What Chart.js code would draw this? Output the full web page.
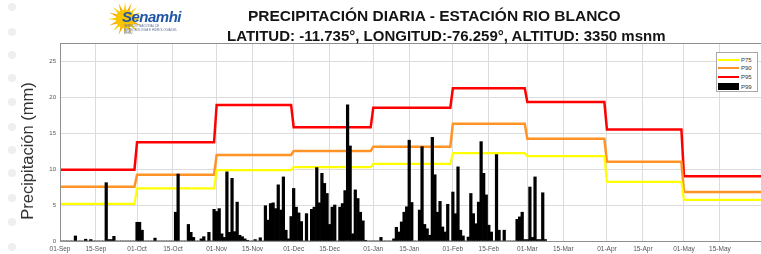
<!DOCTYPE html>
<html lang="es">
<head>
  <meta charset="UTF-8" />
  <title>Precipitación diaria - Estación Rio Blanco</title>
  <script src="https://cdn.jsdelivr.net/npm/chart.js"></script>
  <style>
    * { box-sizing: border-box; }
    body {
      margin: 0;
      width: 761px;
      height: 254px;
      overflow: hidden;
      background: #fff;
      font-family: 'Liberation Sans', Arial, sans-serif;
      position: relative;
    }
    #grafico { position: absolute; left: 0; top: 0; }
    .punto {
      position: absolute;
      left: 8px;
      width: 8px;
      height: 8px;
      border-radius: 50%;
      background: #efefef;
    }
    .titulo {
      position: absolute;
      font-weight: bold;
      color: #141414;
      white-space: nowrap;
    }
    #eje-y {
      position: absolute;
      left: 27px;
      top: 151px;
      transform: translate(-50%, -50%) rotate(-90deg);
      font-size: 16.5px;
      color: #333;
      white-space: nowrap;
    }
    #logo { position: absolute; left: 108px; top: 1px; }
    #logo-texto {
      position: absolute;
      left: 122px;
      top: 8px;
      font: italic bold 15px 'Liberation Sans', Arial, sans-serif;
      color: #1f56a8;
      letter-spacing: -0.5px;
    }
    #logo-sub {
      position: absolute;
      left: 124px;
      top: 25px;
      font-size: 3px;
      line-height: 3.5px;
      color: #5a6f9a;
      width: 54px;
    }
    #leyenda {
      position: absolute;
      left: 716px;
      top: 52px;
      width: 42px;
      height: 40px;
      border: 1px solid #a8a8a8;
      background: #fff;
      font-size: 6px;
      color: #333;
    }
    .fila { position: absolute; left: 1px; height: 7px; display: flex; align-items: center; }
    .fila span.m { display: inline-block; width: 21px; margin-right: 2px; }
  </style>
</head>
<body>
  <canvas id="grafico" width="761" height="254"></canvas>

  <div id="puntos"></div>

  <svg id="logo" width="40" height="40" viewBox="0 0 40 40"></svg>
  <div id="logo-texto">Senamhi</div>
  <div id="logo-sub">SERVICIO NACIONAL DE METEOROLOGÍA E HIDROLOGÍA DEL PERÚ</div>

  <div class="titulo" style="left:248px; top:7px; font-size:15.5px;">PRECIPITACIÓN DIARIA - ESTACIÓN RIO BLANCO</div>
  <div class="titulo" style="left:227px; top:26.5px; font-size:15px;">LATITUD: -11.735°, LONGITUD:-76.259°, ALTITUD: 3350 msnm</div>

  <div id="eje-y">Precipitación (mm)</div>

  <div id="leyenda">
    <div class="fila" style="top:3px;"><span class="m" style="height:2px; background:#ffff00;"></span>P75</div>
    <div class="fila" style="top:11px;"><span class="m" style="height:2px; background:#ff9326;"></span>P90</div>
    <div class="fila" style="top:20px;"><span class="m" style="height:2px; background:#ff0000;"></span>P95</div>
    <div class="fila" style="top:30px;"><span class="m" style="height:7px; background:#000;"></span>P99</div>
  </div>

  <script>
    // meses del año hidrológico
    const meses = ['Sep', 'Oct', 'Nov', 'Dec', 'Jan', 'Feb', 'Mar', 'Apr', 'May'];
    const diasMes = [30, 31, 30, 31, 31, 29, 31, 30, 31];

    // umbrales mensuales (mm)
    const p75 = [5.15, 7.3, 9.85, 10.25, 10.7, 12.2, 11.8, 8.2, 5.7];
    const p90 = [7.55, 9.2, 11.95, 12.5, 13.1, 16.3, 14.2, 11.0, 6.8];
    const p95 = [9.9, 13.7, 18.9, 15.8, 18.5, 21.2, 19.3, 15.5, 9.0];

    // precipitación diaria observada (mm)
    const ppSep = [0, 0, 0, 0, 0, 0, 0.7, 0, 0, 0, 0.25, 0, 0.2, 0, 0, 0, 0, 0, 8.1, 0.2, 0.2, 0.65, 0, 0, 0, 0, 0, 0, 0, 0];
    const ppOct = [2.6, 2.6, 1.5, 0, 0, 0, 0, 0.4, 0, 0, 0, 0, 0, 0, 0, 4.0, 9.3, 0, 0, 0, 2.3, 1.2, 0.5, 0, 0, 0.3, 0.6, 0, 1.2, 0, 4.4];
    const ppNov = [4.1, 4.5, 1.0, 0.5, 9.6, 1.2, 8.7, 1.3, 5.4, 0.8, 0.6, 0.3, 0.1, 0, 0, 0.2, 0, 0.45, 0, 4.9, 2.9, 5.2, 5.3, 4.5, 7.8, 4.3, 8.9, 1.5, 0.3, 3.4];
    const ppDec = [7.3, 4.7, 3.9, 2.7, 0, 3.8, 0, 4.4, 4.7, 10.2, 5.3, 9.4, 8.0, 6.6, 2.3, 4.7, 5.0, 0, 4.7, 5.2, 7.0, 18.9, 13.2, 1.0, 7.1, 5.9, 4.0, 2.8, 0.1, 0, 0];
    const ppJan = [0, 0, 0, 0.5, 0, 0, 0, 0, 0.3, 1.9, 1.25, 2.65, 4.0, 4.75, 14.0, 5.35, 0, 0, 4.3, 13.1, 2.3, 1.7, 0.8, 14.4, 9.2, 4.0, 5.5, 1.95, 1.25, 5.1, 0];
    const ppFeb = [6.8, 3.8, 10.3, 1.5, 0.7, 0, 0.55, 6.6, 3.8, 2.4, 5.4, 13.8, 9.4, 6.4, 2.2, 1.25, 0, 12.0, 1.5, 0, 1.5, 0, 0, 0, 0, 3.0, 3.35, 4.0, 0.2];
    const ppMar = [0.2, 7.5, 0.5, 8.9, 0.2, 0.2, 6.7, 0.2];
    const ppApr = [];
    const ppMay = [];

    const ppMeses = [ppSep, ppOct, ppNov, ppDec, ppJan, ppFeb, ppMar, ppApr, ppMay];

    // armar ejes diarios
    const etiquetas = [];
    const lluvia = [];
    const s75 = [], s90 = [], s95 = [];
    meses.forEach((m, i) => {
      for (let d = 1; d <= diasMes[i]; d++) {
        etiquetas.push(String(d).padStart(2, '0') + '-' + m);
        const v = ppMeses[i][d - 1];
        lluvia.push(v === undefined ? null : v);
        s75.push(p75[i]);
        s90.push(p90[i]);
        s95.push(p95[i]);
      }
    });

    // puntos decorativos a la izquierda
    const puntos = document.getElementById('puntos');
    [7, 32, 55, 78, 102, 127, 150, 173, 198, 222, 247].forEach(y => {
      const p = document.createElement('div');
      p.className = 'punto';
      p.style.top = (y - 4) + 'px';
      puntos.appendChild(p);
    });

    // sol del logo
    const svg = document.getElementById('logo');
    let rayos = '';
    for (let k = 0; k < 16; k++) {
      const a = k * Math.PI / 8;
      const x1 = 17 + Math.cos(a - 0.13) * 9, y1 = 18 + Math.sin(a - 0.13) * 9;
      const x2 = 17 + Math.cos(a) * 17, y2 = 18 + Math.sin(a) * 17;
      const x3 = 17 + Math.cos(a + 0.13) * 9, y3 = 18 + Math.sin(a + 0.13) * 9;
      rayos += `<polygon points="${x1},${y1} ${x2},${y2} ${x3},${y3}" fill="${k % 2 ? '#f7a600' : '#fcd000'}"/>`;
    }
    svg.innerHTML = rayos + '<circle cx="17" cy="18" r="9.5" fill="#fbc400"/>';

    const borde = {
      id: 'borde',
      afterDraw(chart) {
        const { ctx, chartArea: a } = chart;
        ctx.save();
        ctx.strokeStyle = '#8f8f8f';
        ctx.lineWidth = 1;
        ctx.strokeRect(a.left + 0.5, a.top + 0.5, a.right - a.left, a.bottom - a.top);
        ctx.restore();
      }
    };

    const linea = (datos, color, ancho) => ({
      type: 'line',
      data: datos,
      borderColor: color,
      backgroundColor: color,
      borderWidth: ancho,
      pointRadius: 0,
      tension: 0,
      fill: false
    });

    new Chart(document.getElementById('grafico').getContext('2d'), {
      type: 'bar',
      data: {
        labels: etiquetas,
        datasets: [
          {
            label: 'P99',
            data: lluvia,
            backgroundColor: '#000',
            barPercentage: 1,
            categoryPercentage: 1
          },
          linea(s75, '#ffff00', 2.2),
          linea(s90, '#ff9326', 2.5),
          linea(s95, '#ff0000', 2.5)
        ]
      },
      options: {
        responsive: false,
        animation: false,
        layout: { padding: { top: 43, right: 0, left: 0, bottom: 0 } },
        plugins: {
          legend: { display: false },
          tooltip: { enabled: false }
        },
        scales: {
          x: {
            offset: false,
            grid: {
              offset: false,
              color: '#dcdcdc',
              drawTicks: false
            },
            border: { display: false },
            ticks: {
              autoSkip: false,
              maxRotation: 0,
              minRotation: 0,
              padding: 4,
              color: '#555',
              font: { size: 6.5, family: "'Liberation Sans', Arial, sans-serif" },
              callback: function (value) {
                const lab = this.getLabelForValue(value);
                return (lab.startsWith('01') || lab.startsWith('15')) ? lab : null;
              }
            },
            afterFit: s => { s.height = 13; }
          },
          y: {
            min: 0,
            max: 27.5,
            grid: { color: '#dcdcdc', drawTicks: false },
            border: { display: false },
            ticks: {
              stepSize: 5,
              padding: 4,
              color: '#555',
              font: { size: 6, family: "'Liberation Sans', Arial, sans-serif" },
              callback: v => (v % 5 === 0 ? v : null)
            },
            afterFit: s => { s.width = 60; }
          }
        }
      },
      plugins: [borde]
    });
  </script>
</body>
</html>
